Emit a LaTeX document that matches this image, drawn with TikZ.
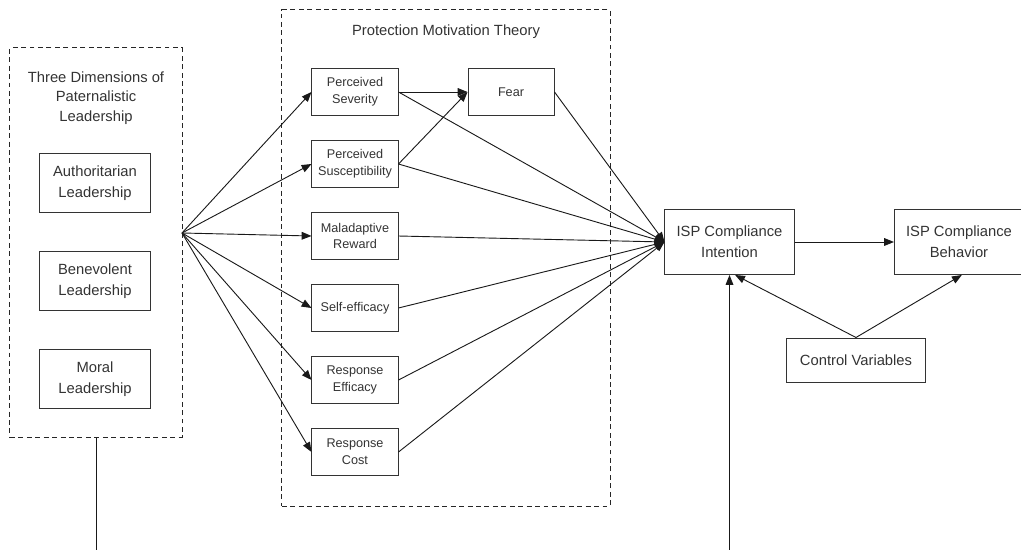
\documentclass[tikz,border=0pt]{standalone}
\usepackage{fontspec}
\setmainfont{Liberation Sans}
\usetikzlibrary{arrows.meta,positioning}

\begin{document}
\begin{tikzpicture}[
x=0.025cm, y=-0.025cm,
node distance=0.6cm,
every node/.style={text=black!80},
box/.style={draw=black!80, line width=0.7pt, align=center, font=\fontsize{9}{12}\selectfont, minimum width=2.15cm, minimum height=1.175cm, inner sep=1pt},
lbox/.style={draw=black!80, line width=0.7pt, align=center, font=\fontsize{10.5}{15}\selectfont, minimum width=2.75cm, minimum height=1.475cm},
big/.style={draw=black!80, line width=0.7pt, align=center, font=\fontsize{10.5}{15}\selectfont, minimum width=3.225cm, minimum height=1.625cm},
frame/.style={draw=black!85, line width=0.7pt, dash pattern=on 3.5pt off 2.5pt},
title/.style={align=center, font=\fontsize{10.5}{14}\selectfont},
arr/.style={-{Triangle[length=7pt,width=5.5pt]}, line width=0.65pt, black!90}
]
\useasboundingbox (0,0) rectangle (1021,550);

% paternalistic leadership
\node[frame, minimum width=4.3cm, minimum height=9.725cm] (lead) at (96,242.5) {};
\node[title] (leadt) at (96,98) {Three Dimensions of\\Paternalistic\\Leadership};
\node[lbox] (auth) at (95,183) {Authoritarian\\Leadership};
\node[lbox, below=0.95cm of auth] (bene) {Benevolent\\Leadership};
\node[lbox, below=0.95cm of bene] (moral) {Moral\\Leadership};
\coordinate (fan) at (182,233);

% protection motivation theory
\node[frame, minimum width=8.2cm, minimum height=12.4cm] (pmt) at (446,258) {};
\node[title] (pmtt) at (446,32) {Protection Motivation Theory};
\node[box] (sev) at (355,92) {Perceived\\Severity};
\node[box, below=of sev] (sus) {Perceived\\Susceptibility};
\node[box, below=of sus] (mal) {Maladaptive\\Reward};
\node[box, below=of mal] (self) {Self-efficacy};
\node[box, below=of self] (reff) {Response\\Efficacy};
\node[box, below=of reff] (rcost) {Response\\Cost};
\node[box, right=1.725cm of sev] (fear) {Fear};

% outcomes
\node[big] (int) at (729.5,242) {ISP Compliance\\Intention};
\node[big] (beh) at (959,242) {ISP Compliance\\Behavior};
\node[lbox, minimum width=3.45cm, minimum height=1.1cm] (ctrl) at (856,360) {Control Variables};

\coordinate (b1) at (96,550);
\coordinate (b2) at (729.5,550);

\foreach \t in {sev,sus,mal,self,reff,rcost}
  \draw[arr] (fan) -- (\t.west);
\foreach \s in {sev,sus,mal,self,reff,rcost,fear}
  \draw[arr] (\s.east) -- (int.west);
\draw[arr] (sev) -- (fear);
\draw[arr] (sus.east) -- (fear.west);
\draw[arr] (int) -- (beh);
\draw[arr] (ctrl.north) -- ([xshift=4pt]int.south);
\draw[arr] (ctrl.north) -- ([xshift=2pt]beh.south);
\draw[line width=0.65pt, black!90] (lead.south) -- (b1);
\draw[arr] (b2) -- (int.south);
\end{tikzpicture}
\end{document}
